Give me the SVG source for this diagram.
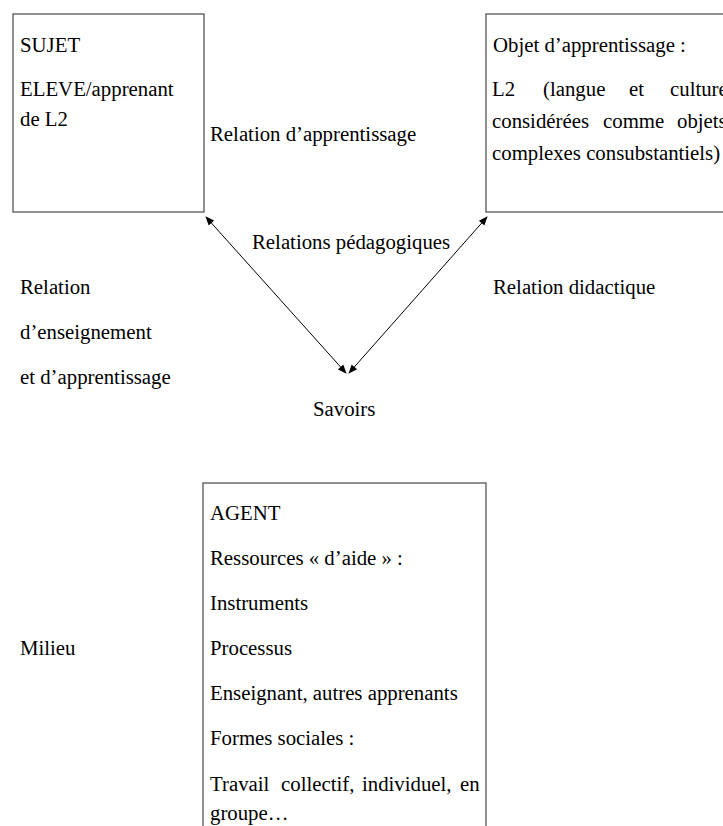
<svg xmlns="http://www.w3.org/2000/svg" width="723" height="826" viewBox="0 0 723 826">
<style>
text{font-family:"Liberation Serif","Times New Roman",serif;font-size:20.8px;fill:#000}
.box{fill:#fff;stroke:#555;stroke-width:1.3}
.conn{stroke:#000;stroke-width:1;fill:none}
</style>
<defs>
<marker id="ah" viewBox="0 0 10 10" refX="9" refY="5" markerWidth="10" markerHeight="9" markerUnits="userSpaceOnUse" orient="auto-start-reverse">
<path d="M0,1 L10,5 L0,9 Z" fill="#000"/>
</marker>
</defs>
<rect width="723" height="826" fill="#fff"/>
<g id="sujet">
<rect class="box" x="13" y="14" width="191" height="198"/>
<text x="20" y="52">SUJET</text>
<text x="20" y="96">ELEVE/apprenant</text>
<text x="20" y="126">de L2</text>
</g>
<g id="objet">
<rect class="box" x="486" y="14" width="260" height="198"/>
<text x="493" y="52">Objet d’apprentissage :</text>
<text x="492" y="96">L2</text>
<text x="543" y="96">(langue</text>
<text x="629" y="96">et</text>
<text x="670" y="96">culture</text>
<text x="492" y="128">considérées</text>
<text x="603" y="128">comme</text>
<text x="677" y="128">objets</text>
<text x="492" y="160">complexes consubstantiels)</text>
</g>
<g id="agent">
<rect class="box" x="203" y="483" width="283" height="360"/>
<text x="210" y="520">AGENT</text>
<text x="210" y="565">Ressources « d’aide » :</text>
<text x="210" y="610">Instruments</text>
<text x="210" y="655">Processus</text>
<text x="210" y="700">Enseignant, autres apprenants</text>
<text x="210" y="745">Formes sociales :</text>
<text x="210" y="791">Travail</text>
<text x="281" y="791">collectif,</text>
<text x="362" y="791">individuel,</text>
<text x="460" y="791">en</text>
<text x="210" y="820">groupe…</text>
</g>
<g id="savoirs"><text x="313" y="416">Savoirs</text></g>
<g id="labels">
<text x="210" y="141">Relation d’apprentissage</text>
<text x="252" y="249">Relations pédagogiques</text>
<text x="20" y="294">Relation</text>
<text x="20" y="339">d’enseignement</text>
<text x="20" y="384">et d’apprentissage</text>
<text x="493" y="294">Relation didactique</text>
<text x="20" y="655">Milieu</text>
</g>
<g id="connectors">
<line class="conn" x1="206" y1="217" x2="346" y2="373" marker-start="url(#ah)" marker-end="url(#ah)"/>
<line class="conn" x1="487" y1="217" x2="349" y2="373" marker-start="url(#ah)" marker-end="url(#ah)"/>
</g>
</svg>
